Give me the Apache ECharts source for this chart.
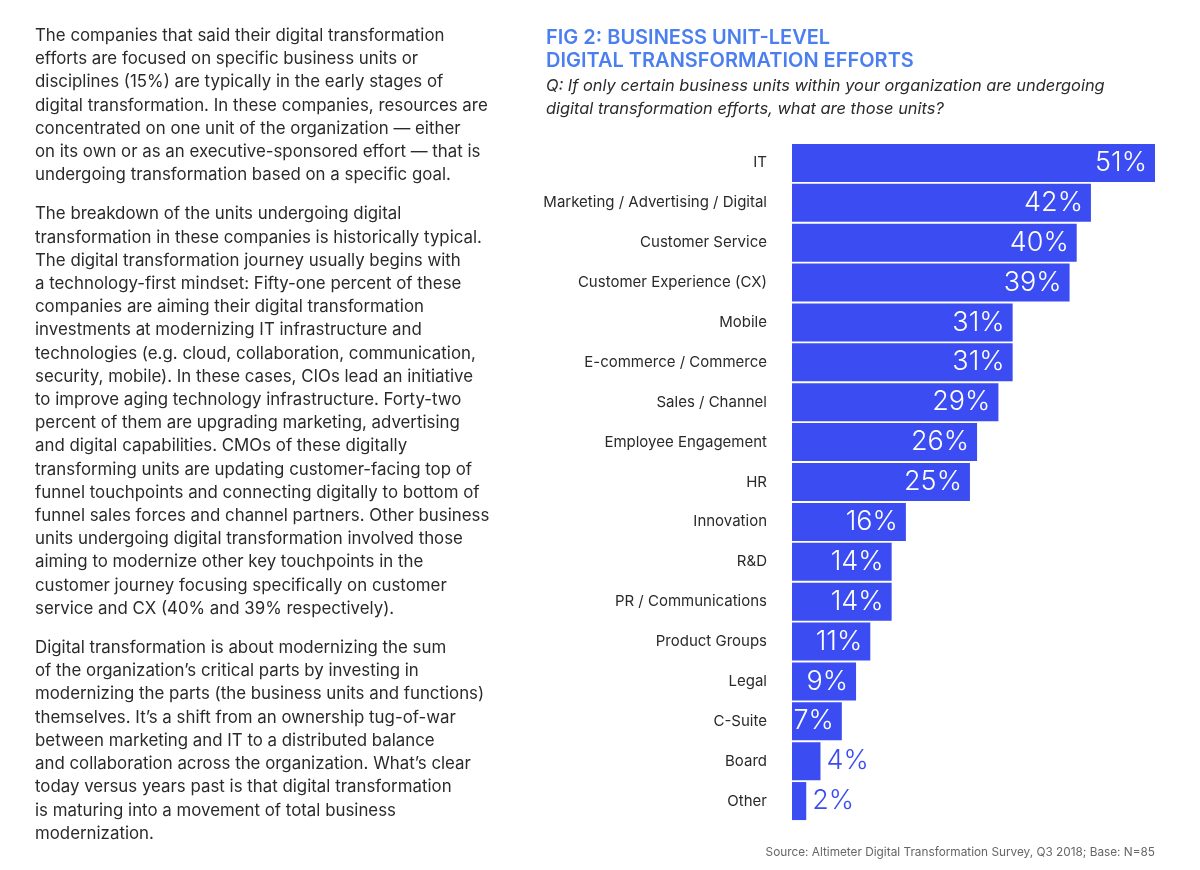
<!DOCTYPE html>
<html>
<head>
<meta charset="utf-8">
<script src="https://cdn.jsdelivr.net/npm/echarts@6/dist/echarts.min.js"></script>
<style>
html,body{margin:0;padding:0;background:#fff;}
#wrap{position:relative;width:1200px;height:870px;overflow:hidden;}
#chart{position:absolute;left:0;top:0;width:1200px;height:870px;}
#text{position:absolute;left:35px;top:24px;width:470px;font-family:Inter,"Noto Sans",sans-serif;font-size:16.85px;line-height:23.2px;color:#2a2a2a;}
#text p{margin:0 0 16px 0;white-space:nowrap;}
</style>
</head>
<body>
<div id="wrap">
<div id="chart"></div>
<div id="text">
<p>The companies that said their digital transformation<br>efforts are focused on specific business units or<br>disciplines (15%) are typically in the early stages of<br>digital transformation. In these companies, resources are<br>concentrated on one unit of the organization — either<br>on its own or as an executive-sponsored effort — that is<br>undergoing transformation based on a specific goal.</p>
<p>The breakdown of the units undergoing digital<br>transformation in these companies is historically typical.<br>The digital transformation journey usually begins with<br>a technology-first mindset: Fifty-one percent of these<br>companies are aiming their digital transformation<br>investments at modernizing IT infrastructure and<br>technologies (e.g. cloud, collaboration, communication,<br>security, mobile). In these cases, CIOs lead an initiative<br>to improve aging technology infrastructure. Forty-two<br>percent of them are upgrading marketing, advertising<br>and digital capabilities. CMOs of these digitally<br>transforming units are updating customer-facing top of<br>funnel touchpoints and connecting digitally to bottom of<br>funnel sales forces and channel partners. Other business<br>units undergoing digital transformation involved those<br>aiming to modernize other key touchpoints in the<br>customer journey focusing specifically on customer<br>service and CX (40% and 39% respectively).</p>
<p>Digital transformation is about modernizing the sum<br>of the organization’s critical parts by investing in<br>modernizing the parts (the business units and functions)<br>themselves. It’s a shift from an ownership tug-of-war<br>between marketing and IT to a distributed balance<br>and collaboration across the organization. What’s clear<br>today versus years past is that digital transformation<br>is maturing into a movement of total business<br>modernization.</p>
</div>
</div>
<script>
const categories = ["IT","Marketing / Advertising / Digital","Customer Service","Customer Experience (CX)","Mobile","E-commerce / Commerce","Sales / Channel","Employee Engagement","HR","Innovation","R&D","PR / Communications","Product Groups","Legal","C-Suite","Board","Other"];
const values = [51,42,40,39,31,31,29,26,25,16,14,14,11,9,7,4,2];
const titleText = "FIG 2: BUSINESS UNIT-LEVEL\nDIGITAL TRANSFORMATION EFFORTS";
const subtitleText = "Q: If only certain business units within your organization are undergoing\ndigital transformation efforts, what are those units?";
const sourceText = "Source: Altimeter Digital Transformation Survey, Q3 2018; Base: N=85";

const barColor = "#3a4cf2";
const outsideThreshold = 5;

const data = values.map(v => {
  const inside = v >= outsideThreshold;
  return {
    value: v,
    label: inside ? {position: 'insideRight', color: '#ffffff', distance: 8} : {position: 'right', color: barColor, distance: 6}
  };
});

const chart = echarts.init(document.getElementById('chart'));
chart.setOption({
  animation: false,
  title: [
    {text: titleText, left: 541, top: 21, textStyle: {fontFamily: 'Inter, "Noto Sans", sans-serif', fontSize: 20, fontWeight: 600, color: '#4b7ff0', lineHeight: 23}},
    {text: subtitleText, left: 541, top: 70, textStyle: {fontFamily: 'Inter, "Noto Sans", sans-serif', fontSize: 16.4, fontWeight: 400, fontStyle: 'italic', color: '#2a2a2a', lineHeight: 23}},
    {text: sourceText, right: 40, top: 841, textStyle: {fontFamily: 'Inter, "Noto Sans", sans-serif', fontSize: 11.8, fontWeight: 400, color: '#666666'}}
  ],
  grid: {left: 792, right: 45, top: 143, bottom: 49, containLabel: false},
  xAxis: {type: 'value', min: 0, max: 51, show: false},
  yAxis: {
    type: 'category', data: categories, inverse: true,
    axisLine: {show: false}, axisTick: {show: false},
    axisLabel: {margin: 25, fontFamily: 'Inter, "Noto Sans", sans-serif', fontSize: 15, color: '#2a2a2a'}
  },
  series: [{
    type: 'bar', data: data, barWidth: 38,
    itemStyle: {color: barColor},
    label: {show: true, formatter: '{c}%', fontFamily: 'Inter, "Noto Sans", sans-serif', fontSize: 27, fontWeight: 300}
  }]
});
</script>
</body>
</html>
